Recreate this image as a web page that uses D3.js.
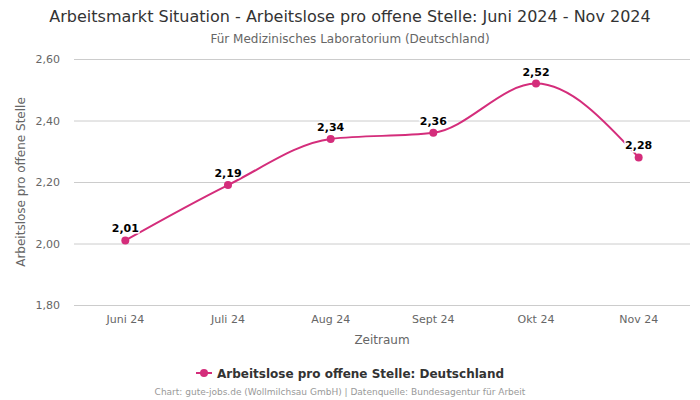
<!DOCTYPE html>
<html><head><meta charset="utf-8">
<script src="https://cdn.jsdelivr.net/npm/d3@7"></script>
<style>body{margin:0;background:#fff}svg{font-family:"DejaVu Sans",sans-serif}</style>
</head><body><svg id="c" width="700" height="400"></svg>
<script>
const categories = ["Juni 24","Juli 24","Aug 24","Sept 24","Okt 24","Nov 24"];
const values = [2.01, 2.19, 2.34, 2.36, 2.52, 2.28];
const yTicks = [1.8, 2.0, 2.2, 2.4, 2.6];
const color = "#d42d7b";
const fmt = v => v.toFixed(2).replace(".", ",");

const svg = d3.select("#c");
const x = d3.scaleBand().domain(categories).range([74, 690]);
const y = d3.scaleLinear().domain([1.8, 2.6]).range([305, 59]);

svg.append("text").attr("x",350).attr("y",22).attr("text-anchor","middle")
  .attr("font-size",16).attr("fill","#333").text("Arbeitsmarkt Situation - Arbeitslose pro offene Stelle: Juni 2024 - Nov 2024");
svg.append("text").attr("x",350).attr("y",43).attr("text-anchor","middle")
  .attr("font-size",12).attr("fill","#666").text("Für Medizinisches Laboratorium (Deutschland)");

const gy = svg.append("g").attr("transform","translate(74,0)")
  .call(d3.axisLeft(y).tickValues(yTicks).tickSize(-616).tickFormat(fmt));
gy.select(".domain").remove();
gy.selectAll("line").attr("stroke","#ccc");
gy.selectAll("text").attr("fill","#666").attr("font-size",11).attr("x",-14).attr("font-family","DejaVu Sans, sans-serif");

const gx = svg.append("g").attr("transform","translate(0,305)")
  .call(d3.axisBottom(x).tickSize(0).tickPadding(10));
gx.select(".domain").remove();
gx.selectAll("text").attr("fill","#666").attr("font-size",11).attr("font-family","DejaVu Sans, sans-serif");

svg.append("text").attr("x",382).attr("y",344).attr("text-anchor","middle")
  .attr("font-size",12).attr("fill","#666").text("Zeitraum");
svg.append("text").attr("transform","translate(25,182) rotate(-90)").attr("text-anchor","middle")
  .attr("font-size",12).attr("fill","#666").text("Arbeitslose pro offene Stelle");

const cx = d => x(d) + x.bandwidth()/2;
const pts = categories.map((c,i)=>[cx(c), y(values[i])]);
svg.append("path").attr("d", d3.line().curve(d3.curveMonotoneX)(pts))
  .attr("fill","none").attr("stroke",color).attr("stroke-width",2);
svg.selectAll("circle.p").data(pts).enter().append("circle")
  .attr("cx",d=>d[0]).attr("cy",d=>d[1]).attr("r",4).attr("fill",color);
svg.selectAll("text.l").data(values).enter().append("text")
  .attr("x",(d,i)=>pts[i][0]).attr("y",(d,i)=>pts[i][1]-8)
  .attr("text-anchor","middle").attr("font-size",11).attr("font-weight","bold")
  .attr("fill","#000").attr("stroke","#fff").attr("stroke-width",3).attr("paint-order","stroke")
  .text(fmt);

const lg = svg.append("g");
lg.append("line").attr("x1",196).attr("x2",212).attr("y1",373).attr("y2",373).attr("stroke",color).attr("stroke-width",2);
lg.append("circle").attr("cx",204).attr("cy",373).attr("r",4).attr("fill",color);
lg.append("text").attr("x",217).attr("y",377.5).attr("font-size",12).attr("font-weight","bold").attr("fill","#333")
  .text("Arbeitslose pro offene Stelle: Deutschland");
svg.append("text").attr("x",340).attr("y",395).attr("text-anchor","middle").attr("font-size",9).attr("fill","#999")
  .text("Chart: gute-jobs.de (Wollmilchsau GmbH) | Datenquelle: Bundesagentur für Arbeit");
</script></body></html>
